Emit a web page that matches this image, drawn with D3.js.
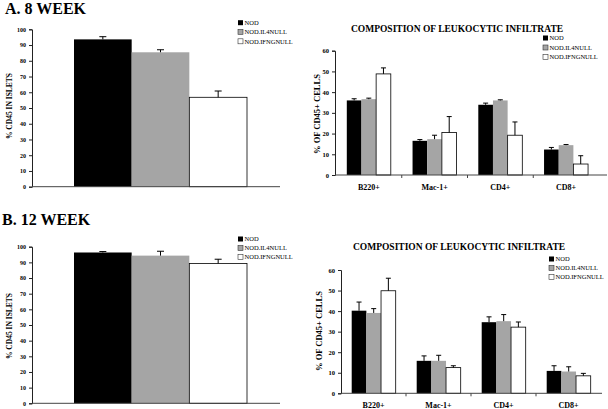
<!DOCTYPE html>
<html><head><meta charset="utf-8">
<script src="https://cdn.jsdelivr.net/npm/d3@7/dist/d3.min.js"></script>
<style>
body{margin:0;background:#fff;}
svg{display:block;}
text{font-family:"Liberation Serif","Times New Roman",serif;font-weight:bold;fill:#000;}
</style></head><body>
<svg id="c" width="608" height="409"></svg>
<script>
// ---- data ----
const groups = ["NOD", "NOD.IL4NULL", "NOD.IFNGNULL"];
const cats = ["B220+", "Mac-1+", "CD4+", "CD8+"];
const isletTicks = [0,10,20,30,40,50,60,70,80,90,100];
const compTicks = [0,10,20,30,40,50,60];

const wk8Islet = [93.6, 85.4, 56.8];
const wk8IsletErr = [1.7, 1.6, 4.0];
const wk12Islet = [96.3, 94.3, 89.3];
const wk12IsletErr = [0.6, 2.8, 2.7];

const wk8NOD = [36.0, 16.5, 33.9, 12.3];
const wk8NODErr = [0.8, 0.6, 0.8, 1.0];
const wk8IL4 = [36.6, 17.3, 36.0, 14.4];
const wk8IL4Err = [0.5, 1.9, 0.3, 0.3];
const wk8IFNG = [48.8, 20.5, 19.2, 5.3];
const wk8IFNGErr = [2.9, 7.7, 6.4, 4.0];

const wk12NOD = [40.2, 15.8, 34.6, 10.9];
const wk12NODErr = [4.2, 2.4, 2.6, 2.5];
const wk12IL4 = [39.1, 15.8, 35.1, 10.6];
const wk12IL4Err = [2.1, 2.7, 3.2, 2.3];
const wk12IFNG = [49.9, 12.5, 32.2, 8.5];
const wk12IFNGErr = [6.1, 0.9, 2.5, 1.2];

// ---- styles ----
const fills = {"NOD":"#000","NOD.IL4NULL":"#a5a5a5","NOD.IFNGNULL":"#fff"};
const strokes = {"NOD":"#000","NOD.IL4NULL":"#888","NOD.IFNGNULL":"#000"};

const svg = d3.select("#c");

function yAxis(g, y, x, ticks, fs){
  const ax = g.append("g").attr("transform",`translate(${x},0)`)
    .call(d3.axisLeft(y).tickValues(ticks).tickSize(3).tickPadding(3));
  ax.select(".domain").attr("stroke","#222");
  ax.selectAll(".tick line").attr("stroke","#222");
  ax.selectAll(".tick text").style("font-size",fs+"px").style("font-family","Liberation Serif").style("font-weight","bold");
}

function legend(g, x, ys, fs){
  groups.forEach((k,i)=>{
    g.append("rect").attr("x",x).attr("y",ys[i]-2.5).attr("width",5).attr("height",5)
      .attr("fill",fills[k]).attr("stroke",k==="NOD"?"none":"#333").attr("stroke-width",0.6);
    g.append("text").attr("x",x+6.5).attr("y",ys[i]+2.3).style("font-size",fs+"px")
      .style("font-weight","normal").text(k);
  });
}

function errBar(g, cx, y, v, e, hw){
  g.append("line").attr("x1",cx).attr("x2",cx).attr("y1",y(v)).attr("y2",y(v+e)).attr("stroke","#000").attr("stroke-width",1);
  g.append("line").attr("x1",cx-hw).attr("x2",cx+hw).attr("y1",y(v+e)).attr("y2",y(v+e)).attr("stroke","#000").attr("stroke-width",1);
}

function isletPanel(cfg, vals, errs){
  const g = svg.append("g");
  const y = d3.scaleLinear().domain([0,100]).range([cfg.y0, cfg.y1]);
  const x = d3.scaleBand().domain(groups).range([cfg.bx0, cfg.bx1]).padding(0);
  groups.forEach((k,i)=>{
    g.append("rect").attr("x",x(k)).attr("y",y(vals[i])).attr("width",x.bandwidth())
      .attr("height",y(0)-y(vals[i])).attr("fill",fills[k])
      .attr("stroke",k==="NOD.IFNGNULL"?"#000":"none").attr("stroke-width",0.8);
  });
  groups.forEach((k,i)=>errBar(g, x(k)+x.bandwidth()/2, y, vals[i], errs[i], 3.5));
  yAxis(g, y, cfg.ax, isletTicks, 6);
  g.append("line").attr("x1",cfg.ax).attr("x2",cfg.base1).attr("y1",y(0)).attr("y2",y(0)).attr("stroke","#444").attr("stroke-width",1);
  g.append("text").attr("transform",`translate(${cfg.lx},${cfg.ly}) rotate(-90)`)
    .attr("text-anchor","middle").style("font-size","7.5px").text("% CD45 IN ISLETS");
  legend(g, cfg.legx, cfg.legy, 6.5);
  g.append("text").attr("x",cfg.tx).attr("y",cfg.ty).style("font-size","16px").text(cfg.title);
}

function compPanel(cfg, series, errs){
  const g = svg.append("g");
  const y = d3.scaleLinear().domain([0,60]).range([cfg.y0, cfg.y1]);
  const x0 = d3.scaleBand().domain(cats).range([cfg.bx0, cfg.bx1]).padding(0);
  const x1 = d3.scaleBand().domain(groups).range([cfg.in0, cfg.in1]).padding(0);
  cats.forEach((c,ci)=>{
    groups.forEach((k,gi)=>{
      const v = series[gi][ci];
      g.append("rect").attr("x",x0(c)+x1(k)).attr("y",y(v)).attr("width",x1.bandwidth())
        .attr("height",y(0)-y(v)).attr("fill",fills[k])
        .attr("stroke",k==="NOD.IFNGNULL"?"#000":"none").attr("stroke-width",0.8);
    });
  });
  cats.forEach((c,ci)=>groups.forEach((k,gi)=>
    errBar(g, x0(c)+x1(k)+x1.bandwidth()/2, y, series[gi][ci], errs[gi][ci], 2.5)));
  yAxis(g, y, cfg.ax, compTicks, 6.5);
  g.append("line").attr("x1",cfg.ax).attr("x2",cfg.base1).attr("y1",y(0)).attr("y2",y(0)).attr("stroke","#444").attr("stroke-width",1);
  cats.slice(1).forEach(c=>{
    g.append("line").attr("x1",x0(c)).attr("x2",x0(c)).attr("y1",y(0)).attr("y2",y(0)+3).attr("stroke","#444");
  });
  const xa = g.append("g").attr("transform",`translate(0,${y(0)})`)
    .call(d3.axisBottom(x0).tickSize(0).tickPadding(9));
  xa.select(".domain").remove();
  xa.selectAll(".tick text").style("font-size","8px").style("font-family","Liberation Serif").style("font-weight","bold");
  g.append("text").attr("transform",`translate(${cfg.lx},${cfg.ly}) rotate(-90)`)
    .attr("text-anchor","middle").style("font-size","8.5px").text("% OF CD45+ CELLS");
  legend(g, cfg.legx, cfg.legy, 6.5);
  g.append("text").attr("x",cfg.tx).attr("y",cfg.ty).attr("text-anchor","middle")
    .style("font-size","9.5px").text("COMPOSITION OF LEUKOCYTIC INFILTRATE");
}

isletPanel({y0:186.7,y1:29.3,bx0:74,bx1:247,ax:32,base1:280,lx:12,ly:106,
  legx:238,legy:[22.7,31.8,41.3],tx:5,ty:14,title:"A. 8 WEEK"}, wk8Islet, wk8IsletErr);
isletPanel({y0:403.3,y1:246.7,bx0:74,bx1:247,ax:32,base1:280,lx:12,ly:326,
  legx:238,legy:[239,248,257],tx:2,ty:225,title:"B. 12 WEEK"}, wk12Islet, wk12IsletErr);

compPanel({y0:175,y1:50.7,bx0:336,bx1:599,in0:10.8,in1:54.8,ax:335,base1:607,lx:320,ly:114,
  legx:543,legy:[38,47.5,57],tx:457,ty:32}, [wk8NOD,wk8IL4,wk8IFNG], [wk8NODErr,wk8IL4Err,wk8IFNGErr]);
compPanel({y0:393.3,y1:270,bx0:341,bx1:601,in0:10.7,in1:54.7,ax:341,base1:602,lx:322,ly:331,
  legx:549,legy:[259,268,277],tx:459,ty:250}, [wk12NOD,wk12IL4,wk12IFNG], [wk12NODErr,wk12IL4Err,wk12IFNGErr]);
</script>
</body></html>
